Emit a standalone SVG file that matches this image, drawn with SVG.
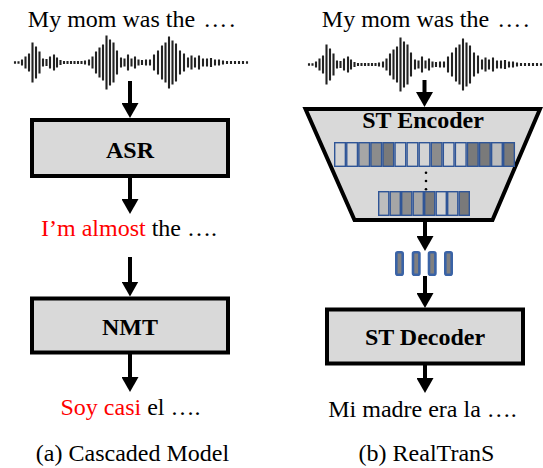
<svg xmlns="http://www.w3.org/2000/svg" xmlns:xlink="http://www.w3.org/1999/xlink" width="543" height="468" viewBox="0 0 543 468" font-family="'Liberation Serif', 'DejaVu Serif', serif">
<style>
text{font-family:'Liberation Serif','DejaVu Serif',serif;font-size:24px;fill:#000;text-anchor:middle}
.b{font-weight:bold}
.red{fill:#ff0000}
.el{letter-spacing:2px}
.box{fill:#d9d9d9;stroke:#000;stroke-width:4}
.conn line{stroke:#000;stroke-width:4;marker-end:url(#ah)}
.wave{fill:none;stroke:#222;stroke-width:2.1}
.blk rect{stroke:#2f5597;stroke-width:1.4}
.L{fill:#d4d4d4}.M{fill:#a6a6a6}.G{fill:#8c8c8c}.D{fill:#7a7a7a}.S{fill:#bdbdbd}
.sb rect{fill:#808080;stroke:#3a63a6;stroke-width:2.6}
</style>
<defs>
<marker id="ah" viewBox="0 0 15 17" refX="1" refY="8.5" markerWidth="15" markerHeight="17" markerUnits="userSpaceOnUse" orient="auto"><path d="M0 0L15 8.5L0 17z" fill="#000"/></marker>
<path id="wavepath" class="wave" d="M15-1.2V1.2M18.5-1.2V1.2M22-3V3M25.5-6V6M29-9V9M32.5-20V20M36-16V16M39.5-11V11M43-4V4M46.5-3.5V3.5M50-6V6M54-8V8M57-5V5M60.5-2.5V2.5M64-1.5V1.5M67.5-1.5V1.5M71-1.5V1.5M74.5-1.5V1.5M78-1.5V1.5M81.5-1.5V1.5M85-2V2M89-3V3M92.5-6V6M96-11V11M99.5-15V15M103-18V18M106.5-27V27M110-23V23M113.5-20V20M117-12V12M121-5V5M124.5-4V4M128-8V8M131.5-4V4M135-6V6M138.5-3V3M142-2.5V2.5M146-3V3M150-3V3M154-8V8M158-12V12M162-17V17M165.5-20V20M169-26V26M172.5-22V22M176-19V19M180-12V12M184-9V9M188-5V5M191.5-7V7M195-5V5M199-7V7M203-4V4M207-4V4M211-4.5V4.5M215-3V3M219-3V3M223-2V2M227-1.5V1.5M231-1.5V1.5M235-1.5V1.5M239-1.5V1.5M243-1.5V1.5M247-1.2V1.2"/>
</defs>

<!-- (a) Cascaded Model -->
<g id="a-input">
<text x="132.5" y="26.5">My mom was the <tspan class="el" dx="2">….</tspan></text>
<use xlink:href="#wavepath" transform="translate(0,62.5)"/>
</g>
<g id="asr">
<rect class="box" x="32" y="120" width="196" height="56"/>
<text class="b" x="130" y="158.3">ASR</text>
</g>
<g id="transcript">
<text x="129" y="236"><tspan class="red">I’m almost</tspan> the ….</text>
</g>
<g id="nmt">
<rect class="box" x="32" y="298.5" width="196" height="54"/>
<text class="b" x="130" y="335">NMT</text>
</g>
<g id="a-output">
<text x="130.5" y="415"><tspan class="red">Soy casi</tspan> el ….</text>
</g>
<text x="132.5" y="461">(a) Cascaded Model</text>

<!-- (b) RealTranS -->
<g id="b-input">
<text x="426.5" y="26.5">My mom was the <tspan class="el" dx="2">….</tspan></text>
<use xlink:href="#wavepath" transform="translate(294,64.5)"/>
</g>
<g id="st-encoder">
<polygon class="box" points="305.5,109 540,109 492.5,220 354.5,220"/>
<text class="b" x="423" y="128.3">ST Encoder</text>
<g class="blk">
<rect class="L" x="334.7" y="142.7" width="10.67" height="23.6"/>
<rect class="L" x="346.77" y="142.7" width="10.67" height="23.6"/>
<rect class="M" x="358.84" y="142.7" width="10.67" height="23.6"/>
<rect class="G" x="370.91" y="142.7" width="10.67" height="23.6"/>
<rect class="D" x="382.98" y="142.7" width="10.67" height="23.6"/>
<rect class="L" x="395.05" y="142.7" width="10.67" height="23.6"/>
<rect class="L" x="407.12" y="142.7" width="10.67" height="23.6"/>
<rect class="L" x="419.19" y="142.7" width="10.67" height="23.6"/>
<rect class="G" x="431.26" y="142.7" width="10.67" height="23.6"/>
<rect class="L" x="443.33" y="142.7" width="10.67" height="23.6"/>
<rect class="L" x="455.4" y="142.7" width="10.67" height="23.6"/>
<rect class="D" x="467.47" y="142.7" width="10.67" height="23.6"/>
<rect class="D" x="479.54" y="142.7" width="10.67" height="23.6"/>
<rect class="S" x="491.61" y="142.7" width="10.67" height="23.6"/>
<rect class="D" x="503.68" y="142.7" width="10.67" height="23.6"/>
<rect class="S" x="378.7" y="191.7" width="10.1" height="23.6"/>
<rect class="M" x="390.2" y="191.7" width="10.1" height="23.6"/>
<rect class="G" x="401.7" y="191.7" width="10.1" height="23.6"/>
<rect class="M" x="413.2" y="191.7" width="10.1" height="23.6"/>
<rect class="D" x="424.7" y="191.7" width="10.1" height="23.6"/>
<rect class="L" x="436.2" y="191.7" width="10.1" height="23.6"/>
<rect class="S" x="447.7" y="191.7" width="10.1" height="23.6"/>
<rect class="D" x="459.2" y="191.7" width="10.1" height="23.6"/>
</g>
<circle cx="426" cy="172.7" r="1.3"/>
<circle cx="426" cy="181" r="1.3"/>
<circle cx="426" cy="189.2" r="1.3"/>
</g>
<g id="states" class="sb">
<rect x="396.3" y="252.3" width="6.4" height="22.4" rx="1.5"/>
<rect x="413" y="252.3" width="6.4" height="22.4" rx="1.5"/>
<rect x="429" y="252.3" width="6.4" height="22.4" rx="1.5"/>
<rect x="445.3" y="252.3" width="6.4" height="22.4" rx="1.5"/>
</g>
<g id="st-decoder">
<rect class="box" x="327" y="309.5" width="196" height="54"/>
<text class="b" x="425" y="345">ST Decoder</text>
</g>
<g id="b-output">
<text x="422.5" y="416.5">Mi madre era la ….</text>
</g>
<text x="426.5" y="461">(b) RealTranS</text>

<g id="connectors" class="conn">
<line x1="130" y1="81" x2="130" y2="104"/>
<line x1="130" y1="176" x2="130" y2="200"/>
<line x1="130" y1="257" x2="130" y2="282.5"/>
<line x1="130" y1="354" x2="130" y2="378"/>
<line x1="424.5" y1="80" x2="424.5" y2="93"/>
<line x1="425" y1="221" x2="425" y2="237"/>
<line x1="425" y1="276" x2="425" y2="294"/>
<line x1="425" y1="365" x2="425" y2="379"/>
</g>
</svg>
